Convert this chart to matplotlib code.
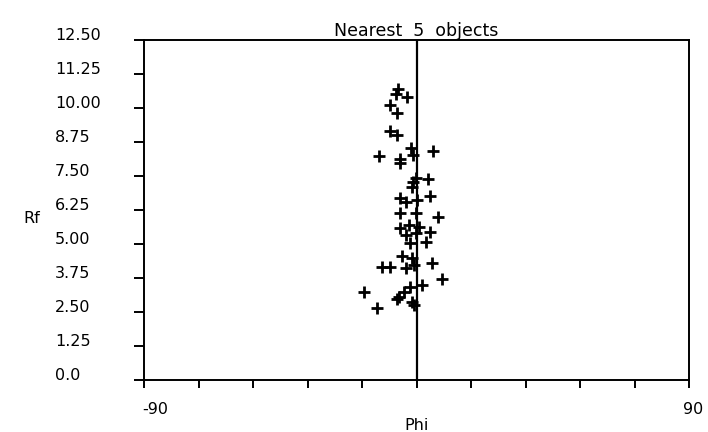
import numpy as np
import matplotlib
matplotlib.use("Agg")
import matplotlib.pyplot as plt
from matplotlib.transforms import ScaledTranslation

# data (Phi in degrees, Rf)
phi = [-6.0, -6.9, -3.3, -8.8, -6.4, -8.6, -6.4, -12.5, -5.3, -5.3, -1.7, -1.2, 5.6,
       -0.3, -1.1, 3.7, -1.4, -5.3, 0.2, 4.4, -3.6, -5.5, -0.3, 7.0,
       -5.3, -2.5, 0.8, 4.6, -3.6, -0.3, 3.0, -2.2,
       -4.7, -1.4, 5.2, -0.9, -11.3, -8.9, -3.6,
       8.5, -2.0, 1.9, -4.2, -17.4, -5.8, -6.6, -1.4, -0.9, -13.2]
rf = [10.7, 10.5, 10.4, 10.1, 9.8, 9.17, 9.0, 8.24, 8.12, 7.98, 8.53, 8.27, 8.43,
      7.42, 7.29, 7.38, 7.1, 6.68, 6.62, 6.76, 6.56, 6.14, 6.14, 5.99,
      5.58, 5.7, 5.64, 5.45, 5.33, 5.39, 5.08, 5.03,
      4.56, 4.47, 4.3, 4.23, 4.14, 4.14, 4.12,
      3.71, 3.43, 3.49, 3.25, 3.25, 3.06, 2.98, 2.88, 2.76, 2.64]

yticks = [0.0, 1.25, 2.5, 3.75, 5.0, 6.25, 7.5, 8.75, 10.0, 11.25, 12.5]
ylabels = ["0.0", "1.25", "2.50", "3.75", "5.00", "6.25", "7.50", "8.75", "10.00", "11.25", "12.50"]
xticks = list(range(-90, 91, 18))
xlabels = ["-90"] + [""] * 9 + ["90"]

plt.rcParams['font.family'] = ['DejaVu Sans']

fig = plt.figure(figsize=(7.08, 4.32), dpi=100)
ax = fig.add_axes([144/708, 52/432, 545/708, 340/432])

ax.plot(phi, rf, linestyle='none', marker='+', markersize=8.5, mew=2.0, color='black')
ax.axvline(0, color='black', lw=1.6)

ax.set_xlim(-90, 90)
ax.set_ylim(0, 12.5)
for s in ax.spines.values():
    s.set_linewidth(1.4)

ax.set_yticks(yticks, ylabels)
ax.set_xticks(xticks, xlabels)
ax.tick_params(axis='y', direction='out', length=7, width=1.4, labelsize=11.5, pad=57)
ax.tick_params(axis='x', direction='out', length=6, width=1.4, labelsize=11.5, pad=10)

for lab in ax.get_yticklabels():
    lab.set_horizontalalignment('left')
    lab.set_transform(lab.get_transform() + ScaledTranslation(0, 4/72, fig.dpi_scale_trans))
xl = ax.get_xticklabels()
xl[0].set_transform(xl[0].get_transform() + ScaledTranslation(8/72, 0, fig.dpi_scale_trans))
xl[-1].set_transform(xl[-1].get_transform() + ScaledTranslation(3/72, 0, fig.dpi_scale_trans))

ax.set_title("Nearest  5  objects", fontsize=12.5, pad=3)
ax.set_ylabel("Rf", rotation=0, fontsize=11.5, va='center', ha='center')
ax.yaxis.set_label_coords(-0.206, 0.476)
ax.set_xlabel("Phi", fontsize=11.5, va='center')
ax.xaxis.set_label_coords(0.5, -0.135)

fig.savefig("out.png", dpi=100)
